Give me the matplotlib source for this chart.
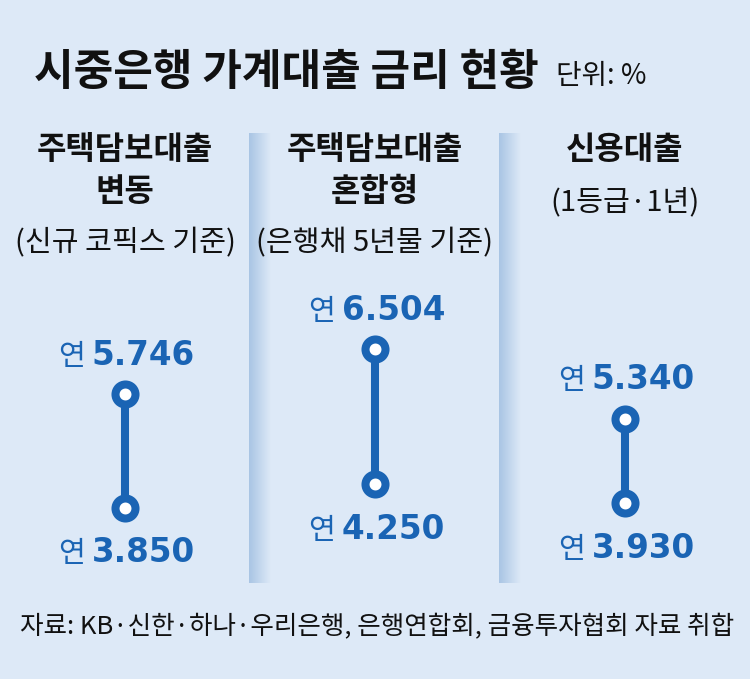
import numpy as np
import matplotlib
matplotlib.use('Agg')
import matplotlib.pyplot as plt
import matplotlib.transforms as mtransforms

plt.rcParams['font.family'] = ['Noto Sans CJK KR', 'DejaVu Sans']

# data
categories = ['주택담보대출\n변동', '주택담보대출\n혼합형', '신용대출']
notes = ['(신규 코픽스 기준)', '(은행채 5년물 기준)', '(1등급·1년)']
high = [5.746, 6.504, 5.340]
low = [3.850, 4.250, 3.930]
title = '시중은행 가계대출 금리 현황'
unit = '단위: %'
source = '자료: KB·신한·하나·우리은행, 은행연합회, 금융투자협회 자료 취합'

bg_col = '#dde9f7'
blue = '#1a64b4'
W, H = 750, 679

fig = plt.figure(figsize=(7.5, 6.79), dpi=100)
fig.patch.set_facecolor(bg_col)

# background layer in pixel units (separators)
bg = fig.add_axes([0, 0, 1, 1])
bg.axis('off')
grad = np.linspace(0, 1, 64).reshape(1, -1)
cmap = matplotlib.colors.LinearSegmentedColormap.from_list('sep', ['#a9c5e4', bg_col])
for x0 in [249, 499]:
    bg.imshow(grad, cmap=cmap, extent=[x0, x0 + 22, 583, 133], aspect='auto', zorder=1)
bg.set_xlim(0, W)
bg.set_ylim(H, 0)

# data axes
ax = fig.add_axes([0, 0, 1, 1])
ax.patch.set_alpha(0)
ax.set_xlim(-0.5, len(categories) - 0.5)
ax.set_ylim(0.982, 12.346)
ax.axis('off')

x = np.arange(len(categories))
ax.vlines(x, low, high, color=blue, lw=5.8, zorder=2)
ax.plot(np.r_[x, x], np.r_[high, low], 'o', ms=14.4, mew=5.8,
        mfc='white', mec=blue, zorder=3)

for i in range(len(categories)):
    for v, dy in [(high[i], 21), (low[i], -39.5)]:
        ax.annotate('%.3f' % v, (x[i], v), xytext=(-24, dy), textcoords='offset points',
                    ha='left', va='baseline', color=blue, fontsize=23.5,
                    fontweight='bold', family='DejaVu Sans')
        ax.annotate('연', (x[i], v), xytext=(-29, dy), textcoords='offset points',
                    ha='right', va='baseline', color=blue, fontsize=21,
                    fontweight='medium')

# panel headers
trans = mtransforms.blended_transform_factory(ax.transData, fig.transFigure)
for i, cat in enumerate(categories):
    lines = cat.split('\n')
    ys = [150, 192]
    for j, ln in enumerate(lines):
        ax.text(x[i], 1 - ys[j] / H, ln, transform=trans, ha='center', va='center',
                fontsize=23, fontweight='bold', color='#111111')
    ny = 243 if len(lines) > 1 else 202
    ax.text(x[i], 1 - ny / H, notes[i], transform=trans, ha='center', va='center',
            fontsize=21, color='#111111')

fig.text(34 / W, 1 - 72 / H, title, ha='left', va='center', fontsize=31,
         fontweight='bold', color='#111111')
fig.text(556 / W, 1 - 76 / H, unit, ha='left', va='center', fontsize=20, color='#111111')
fig.text(377 / W, 1 - 627 / H, source, ha='center', va='center', fontsize=18.4,
         color='#111111')

fig.savefig('out.png', dpi=100, facecolor=fig.get_facecolor())
